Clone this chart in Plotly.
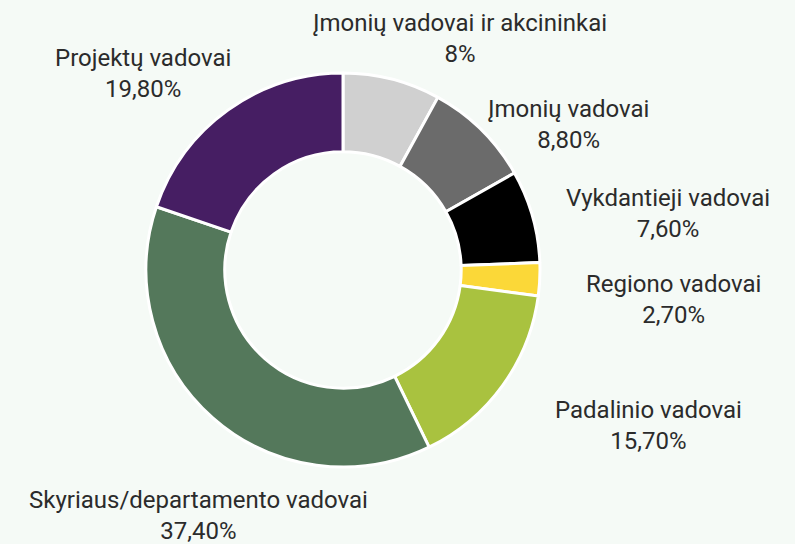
import plotly.graph_objects as go

categories = [
    "Įmonių vadovai ir akcininkai",
    "Įmonių vadovai",
    "Vykdantieji vadovai",
    "Regiono vadovai",
    "Padalinio vadovai",
    "Skyriaus/departamento vadovai",
    "Projektų vadovai",
]
values = [8.0, 8.8, 7.6, 2.7, 15.7, 37.4, 19.8]
value_labels = ["8%", "8,80%", "7,60%", "2,70%", "15,70%", "37,40%", "19,80%"]
colors = ["#d0d0d0", "#6b6b6b", "#000000", "#fbd838", "#a9c23f", "#54785b", "#461e63"]

W, H = 795, 544
# label block centres in page pixels (layout only)
label_pos = [(460, 39), (568, 125), (668, 214), (673, 299), (648, 425), (198, 515), (143, 74)]

cx, cy, r = 343, 270, 197

fig = go.Figure(go.Pie(
    labels=categories,
    values=values,
    hole=0.6,
    sort=False,
    direction="clockwise",
    rotation=0,
    marker=dict(colors=colors, line=dict(color="white", width=3)),
    textinfo="none",
    hoverinfo="label+percent",
    showlegend=False,
    domain=dict(x=[(cx - r) / W, (cx + r) / W], y=[1 - (cy + r) / H, 1 - (cy - r) / H]),
))

for name, vl, (px, py) in zip(categories, value_labels, label_pos):
    fig.add_annotation(
        x=px / W, y=1 - py / H, xref="paper", yref="paper",
        text=f"{name}<br>{vl}", showarrow=False,
        xanchor="center", yanchor="middle", align="center",
        font=dict(family="Roboto", size=24, color="#2b2b2b"),
    )

fig.update_layout(
    width=W, height=H,
    margin=dict(l=0, r=0, t=0, b=0),
    paper_bgcolor="#f5faf6",
    plot_bgcolor="#f5faf6",
)

fig.write_html("out.html", include_plotlyjs=True, config={"displayModeBar": False})
with open("out.html", "r", encoding="utf-8") as f:
    html = f.read()
html = html.replace(
    "<head>",
    "<head><style>html,body{margin:0;padding:0;overflow:hidden;background:#f5faf6;}</style>",
    1,
)
with open("out.html", "w", encoding="utf-8") as f:
    f.write(html)
